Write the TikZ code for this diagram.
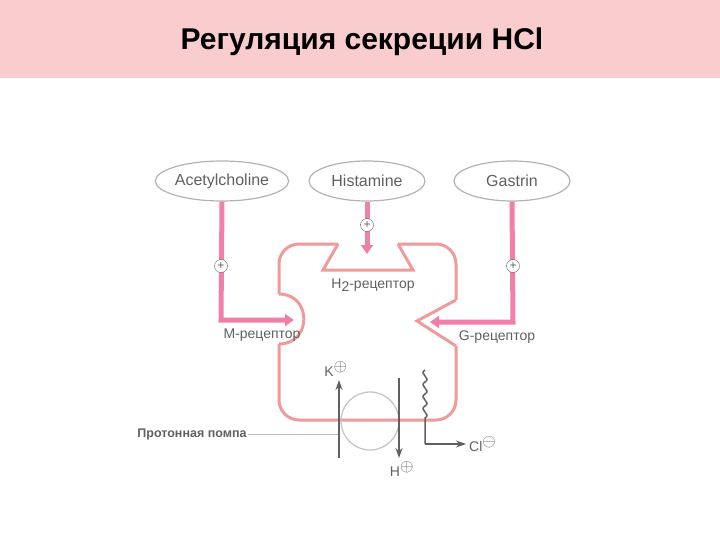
\documentclass[tikz,border=0pt]{standalone}
\usepackage{fontspec}
\setmainfont{Liberation Sans}
\usetikzlibrary{arrows.meta,shapes.geometric}
\definecolor{band}{HTML}{F9CDCD}
\definecolor{pk}{HTML}{F07FAA}
\definecolor{cell}{HTML}{F09A9A}
\definecolor{tx}{HTML}{606060}
\tikzset{
 ell/.style={draw=gray!60,line width=1.2pt,ellipse,minimum width=116pt,minimum height=40pt,inner sep=0pt,text=tx,font=\fontsize{16}{18}\selectfont},
 pkline/.style={draw=pk,line width=5pt,-{Triangle[length=9pt,width=12pt]}},
 plus/.style={circle,draw=tx,fill=white,inner sep=0pt,minimum size=13pt,font=\fontsize{12}{12}\selectfont,text=tx},
 lbl/.style={text=tx,font=\fontsize{14}{16}\selectfont,inner sep=1pt},
 darr/.style={draw=tx,line width=1.5pt,-{Stealth[length=10pt,width=7pt]}},
 cellln/.style={draw=cell,line width=3pt,rounded corners=20pt}
}
\newcommand{\ionp}{\textsuperscript{\LARGE$\oplus$}}
\newcommand{\ionm}{\textsuperscript{\LARGE$\ominus$}}
\begin{document}
\begin{tikzpicture}[x=1pt,y=-1pt]
\useasboundingbox (0,0) rectangle (720,540);
\fill[band] (0,0) rectangle (720,78);
\node[font=\bfseries\fontsize{30}{34}\selectfont] (title) at (362,42) {Регуляция секреции HCl};
\node[ell] (ach) at (222,181) {Acetylcholine};
\node[ell] (his) at (367,181) {Histamine};
\node[ell] (gas) at (512,181) {Gastrin};
% cell
\draw[cellln] (338,244) -- (279,244) -- (279,294);
\draw[cellln,sharp corners] (279,294) to[out=0,in=0,looseness=1.7] (279,344);
\draw[cellln] (279,344) -- (279,420) -- (456,420) -- (456,346);
\draw[cellln,sharp corners] (456,346) -- (417,321) -- (456,300);
\draw[cellln] (456,300) -- (456,244) -- (398,244);
\draw[cellln,sharp corners,line join=miter] (398,244) -- (413,270) -- (323,270) -- (338,244);
\coordinate (mr) at (294,320);
\coordinate (gr) at (430,322);
\coordinate (hr) at (367,254);
\draw[pkline] (ach.south) -- (221,320) -- (mr);
\draw[pkline] (his.south) -- (hr);
\draw[pkline] (gas.south) -- (513,322) -- (gr);
\node[plus] (p1) at (221,266) {+};
\node[plus] (p2) at (367,225) {+};
\node[plus] (p3) at (513,266) {+};
\node[lbl] (h2) at (373,285) {H\raisebox{-3pt}{2}-рецептор};
\node[lbl] (m) at (262,335) {M-рецептор};
\node[lbl] (g) at (497,337) {G-рецептор};
% pump
\node[circle,draw=gray!45,line width=1.3pt,minimum size=58pt,inner sep=0pt] (pump) at (370,421) {};
\node[lbl,font=\bfseries\fontsize{12.5}{14}\selectfont] (pp) at (192,434) {Протонная помпа};
\draw[gray!50,line width=0.8pt] (pp.east) -- (pump.west |- pp.east);
\coordinate (kb) at (339,458);
\coordinate (kt) at (339,380);
\draw[darr] (kb) -- (kt);
\coordinate (ht) at (399,378);
\coordinate (hb) at (399,458);
\draw[darr] (ht) -- (hb);
\node[lbl] (k) at (336,369) {K\ionp};
\node[lbl] (h) at (402,469) {H\ionp};
% squiggle
\draw[tx,line width=1.5pt] (425,370) .. controls (418,374) and (432,378) .. (425,382)
 .. controls (418,386) and (432,390) .. (425,394) .. controls (418,398) and (432,402) .. (425,406)
 .. controls (418,410) and (432,414) .. (425,418) -- (425,444);
\coordinate (sq) at (425,444);
\coordinate (cl) at (466,444);
\draw[darr] (sq) -- (cl);
\node[lbl,anchor=west] (cln) at (468,444) {Cl\ionm};
\end{tikzpicture}
\end{document}
